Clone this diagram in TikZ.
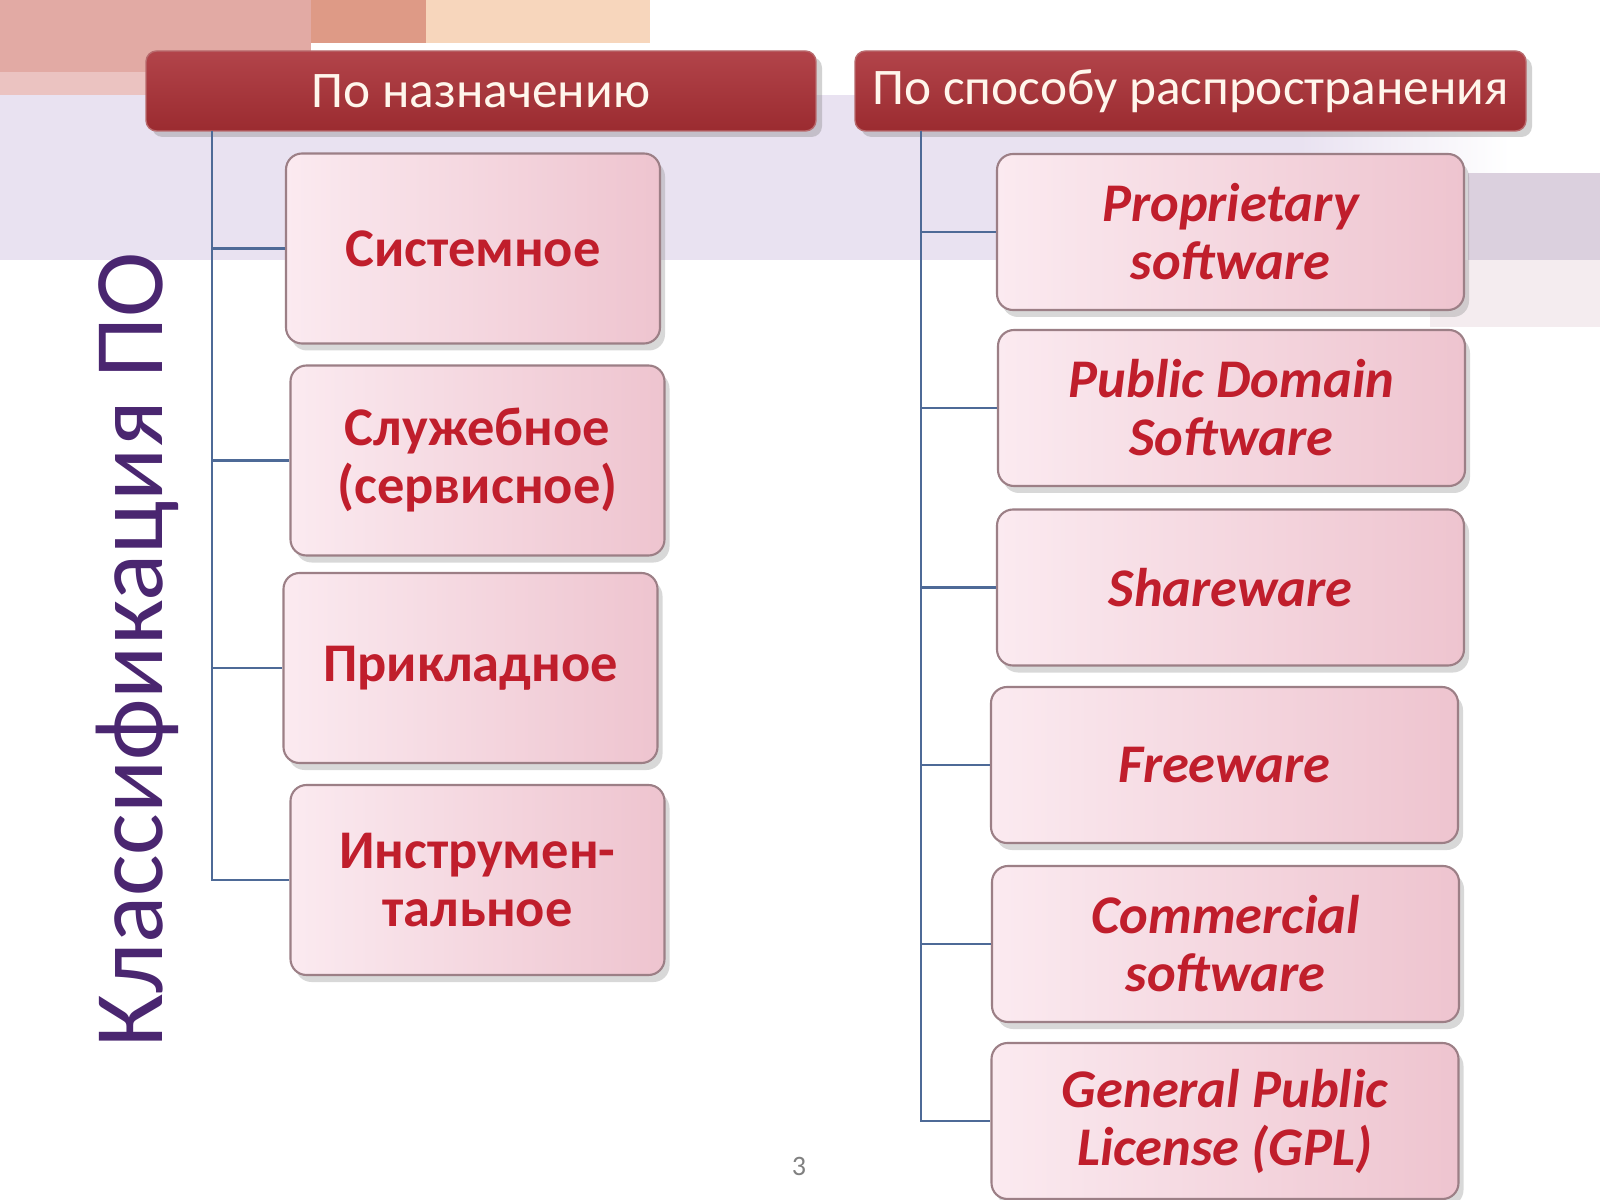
\documentclass[tikz,border=0pt]{standalone}
\usepackage{fontspec}
\setmainfont{Carlito}
\usetikzlibrary{shadows}

\definecolor{hdred}{HTML}{9B2B30}
\definecolor{hdtop}{HTML}{B2444A}
\definecolor{hdtext}{HTML}{FFF6EC}
\definecolor{boxl}{HTML}{FBEAF0}
\definecolor{boxr}{HTML}{EEC4CF}
\definecolor{boxedge}{HTML}{9C7F86}
\definecolor{boxtxt}{HTML}{C01E2C}
\definecolor{treeblue}{HTML}{4E6A97}
\definecolor{titlepurple}{HTML}{4A2670}
\definecolor{bgpink}{HTML}{E2AAA4}
\definecolor{bgpinklt}{HTML}{EBC3C1}
\definecolor{bgsalmon}{HTML}{DE9A86}
\definecolor{bgpeach}{HTML}{F7D6BC}
\definecolor{bglav}{HTML}{E9E2F1}
\definecolor{bggrey}{HTML}{DBD0DE}
\definecolor{bgrose}{HTML}{F4ECEF}

\tikzset{
    head/.style={draw=hdred!70!white, rounded corners=3pt, top color=hdtop, bottom color=hdred,
        text=hdtext, font=\fontsize{14.6}{17}\selectfont, minimum height=8mm, inner xsep=1mm,
        drop shadow={opacity=0.35, shadow xshift=0.6mm, shadow yshift=-0.6mm}},
    item/.style={draw=boxedge, line width=0.6pt, rounded corners=1.6mm, left color=boxl, right color=boxr,
        text=boxtxt, align=center, font=\bfseries\fontsize{15.5}{16.5}\selectfont,
        drop shadow={opacity=0.3, shadow xshift=0.5mm, shadow yshift=-0.7mm}},
    leftitem/.style={item, minimum width=37.4mm, minimum height=19mm},
    rightitem/.style={item, minimum width=46.7mm, minimum height=15.6mm, font=\bfseries\itshape\fontsize{15.5}{16.5}\selectfont},
    tree/.style={treeblue, line width=0.8pt},
}

\begin{document}
\begin{tikzpicture}[x=0.1mm, y=-0.1mm]
        \useasboundingbox (0,0) rectangle (1600,1200);
        \fill[white] (0,0) rectangle (1600,1200);
        \fill[bgpink] (0,0) rectangle (311,72);
        \fill[bgpinklt] (0,72) rectangle (311,95);
        \fill[bgsalmon] (311,0) rectangle (426,43);
        \fill[bgpeach] (426,0) rectangle (650,43);
        \fill[bglav] (0,95) rectangle (1300,260);
        \shade[left color=bglav, right color=white] (1300,95) rectangle (1510,260);
        \fill[bgrose] (1430,260) rectangle (1600,327);
        \fill[bggrey] (1468,173) rectangle (1600,260);

        \node[rotate=90, text=titlepurple, font=\fontsize{28}{30}\selectfont] (title) at (137,650) {Классификация ПО};

        \node[head, minimum width=67mm] (purpose) at (481,91) {По назначению};
        \node[head, minimum width=67.1mm] (distrib) at (1190.5,91) {По способу распространения};

        \coordinate (trunkL) at (212,131);
        \coordinate (trunkR) at (921,131);

        \node[leftitem] (system) at (473,248.5) {Системное};
        \node[leftitem] (service) at (477.5,460.5) {Служебное\\(сервисное)};
        \node[leftitem] (applied) at (470.5,668) {Прикладное};
        \node[leftitem] (tools) at (477.5,880) {Инструмен-\\тальное};

        \node[rightitem] (propr) at (1230.5,232) {Proprietary\\software};
        \node[rightitem] (pubdom) at (1231.5,408) {Public Domain\\Software};
        \node[rightitem] (share) at (1230.5,587.5) {Shareware};
        \node[rightitem] (free) at (1224.5,765) {Freeware};
        \node[rightitem] (commerc) at (1225.5,944) {Commercial\\software};
        \node[rightitem] (gpl) at (1225,1121) {General Public\\License (GPL)};

        \foreach \b in {system,service,applied,tools}
            \draw[tree] (trunkL) |- (\b.west);
        \foreach \b in {propr,pubdom,share,free,commerc,gpl}
            \draw[tree] (trunkR) |- (\b.west);

        \node[text=gray, font=\fontsize{8}{9}\selectfont] (pagenum) at (799,1166) {3};
        \end{tikzpicture}
\end{document}
